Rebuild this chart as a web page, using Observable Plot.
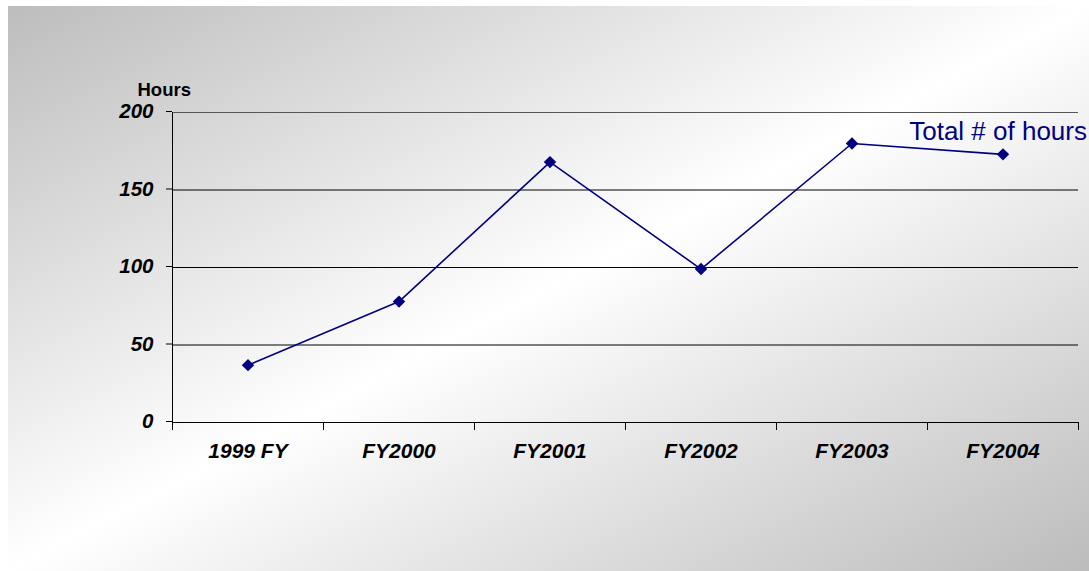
<!DOCTYPE html>
<html>
<head>
<meta charset="utf-8">
<script src="https://cdn.jsdelivr.net/npm/d3@7"></script>
<script src="https://cdn.jsdelivr.net/npm/@observablehq/plot@0.6"></script>
<style>
  html, body { margin: 0; padding: 0; background: #ffffff; }
  #chart svg { display: block; }
</style>
</head>
<body>
<div id="chart"></div>
<script>
// Fiscal years and total hours per year
const categories = ["1999 FY", "FY2000", "FY2001", "FY2002", "FY2003", "FY2004"];
const hours = [37, 78, 168, 99, 180, 173];
const yTicks = [0, 50, 100, 150, 200];
const seriesLabel = "Total # of hours";
const yLabel = "Hours";

const navy = "#000080";
const font = "'Liberation Sans', Arial, Helvetica, sans-serif";

// each year sits in the middle of its slot; slot boundaries carry the tick marks
const rows = categories.map((c, i) => ({year: c, pos: i + 0.5, hours: hours[i]}));
const last = rows[rows.length - 1];

const chart = Plot.plot({
  width: 1089,
  height: 571,
  marginTop: 112,
  marginBottom: 149,
  marginLeft: 172,
  marginRight: 11,
  x: {domain: [0, categories.length]},
  y: {domain: [0, 200]},
  style: {
    fontFamily: font,
    color: "#000",
    background: "linear-gradient(to bottom right, #bdbdbd 0%, #ffffff 50%, #bcbcbc 100%) no-repeat",
    backgroundPosition: "8px 6px",
    backgroundSize: "calc(100% - 8px) calc(100% - 6px)",
    overflow: "visible"
  },
  marks: [
    Plot.gridY([50, 100, 150], {stroke: "#000", strokeOpacity: 1, strokeWidth: 1}),
    Plot.gridY([200], {stroke: "#555", strokeOpacity: 1, strokeWidth: 1.2}),
    Plot.axisY({
      ticks: yTicks,
      tickSize: 6,
      tickPadding: 13,
      fontSize: 20.5,
      fontWeight: "bold",
      fontStyle: "italic",
      dy: -1,
      label: null
    }),
    // tick marks at slot boundaries
    Plot.axisX({
      ticks: d3.range(0, categories.length + 1),
      tickSize: 8,
      tickFormat: () => "",
      label: null
    }),
    // year labels centred in each slot
    Plot.axisX({
      ticks: rows.map(d => d.pos),
      tickSize: 0,
      tickPadding: 21,
      tickFormat: (v) => categories[Math.floor(v)],
      fontSize: 21,
      fontWeight: "bold",
      fontStyle: "italic",
      label: null
    }),
    Plot.ruleX([0], {stroke: "#000"}),
    Plot.ruleY([0], {stroke: "#000"}),
    Plot.text([yLabel], {
      frameAnchor: "top-left",
      text: d => d,
      textAnchor: "start",
      lineAnchor: "middle",
      dx: -35,
      dy: -22,
      fontSize: 18.5,
      fontWeight: "bold",
      fill: "#000"
    }),
    Plot.line(rows, {x: "pos", y: "hours", stroke: navy, strokeWidth: 1.6}),
    Plot.dot(rows, {x: "pos", y: "hours", symbol: "diamond2", r: 5.6, fill: navy, stroke: "none"}),
    Plot.text([last], {
      x: "pos",
      y: "hours",
      text: () => seriesLabel,
      textAnchor: "end",
      lineAnchor: "middle",
      dx: 84,
      dy: -23,
      fontSize: 26,
      fill: navy
    })
  ]
});

document.getElementById("chart").appendChild(chart);
</script>
</body>
</html>
